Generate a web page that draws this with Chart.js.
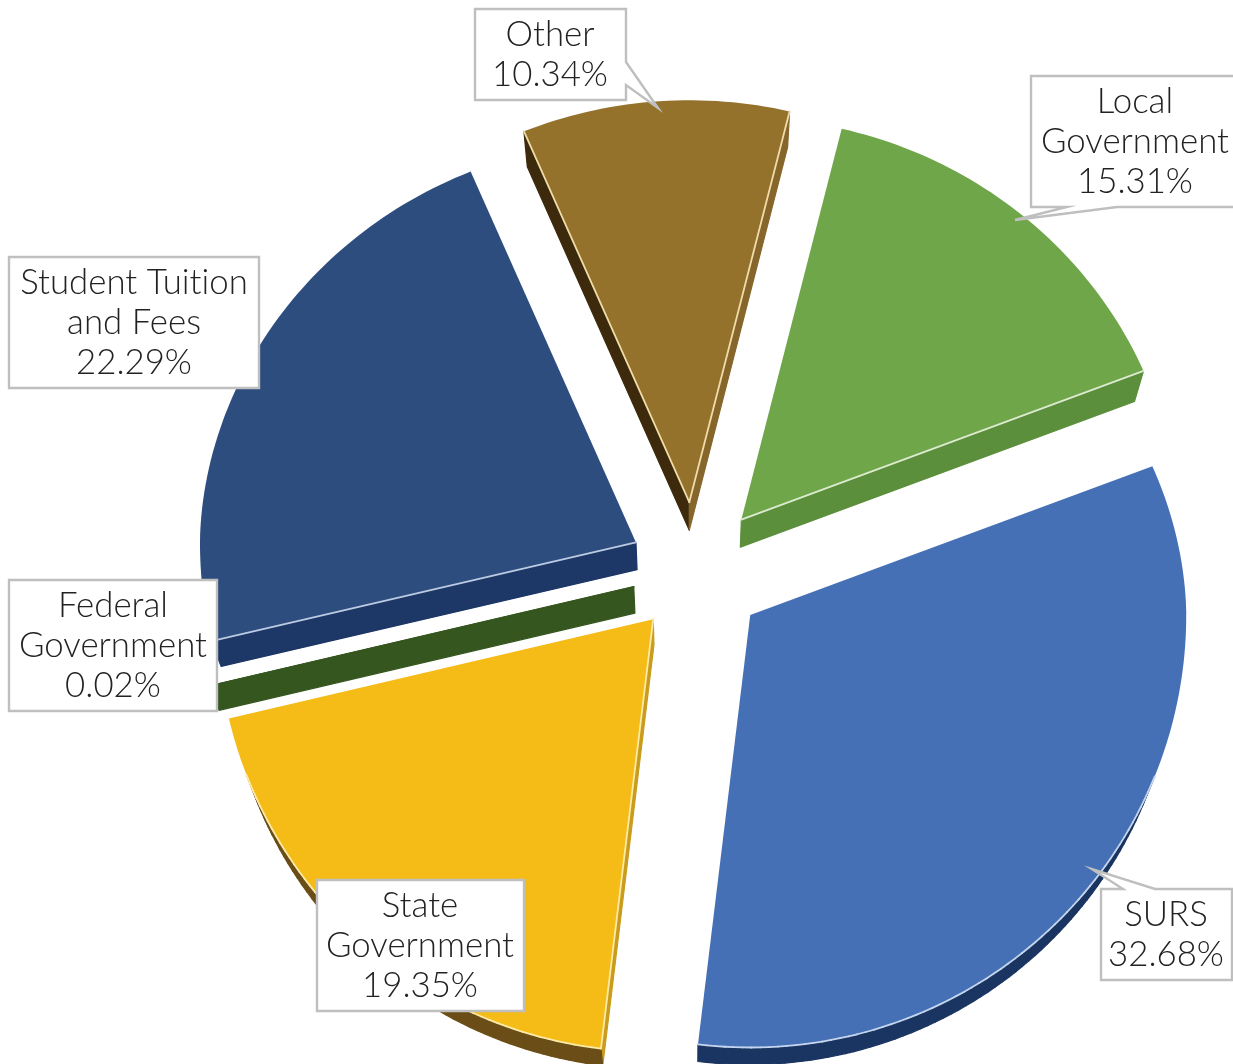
<!DOCTYPE html>
<html lang="en">
<head>
<meta charset="utf-8">
<title>Revenue by source</title>
<script src="https://cdn.jsdelivr.net/npm/chart.js@4/dist/chart.umd.min.js"></script>
<style>
    html, body { margin: 0; padding: 0; background: #fff; }
    canvas { display: block; }
</style>
</head>
<body>
<canvas id="revenuePie" width="1233" height="1064"></canvas>
<script>
// Chart data
const categories = ['Other', 'Local Government', 'SURS', 'State Government', 'Federal Government', 'Student Tuition and Fees'];
const shares = [10.34, 15.31, 32.68, 19.35, 0.02, 22.29];
const labelBreaks = [['Other'], ['Local', 'Government'], ['SURS'], ['State', 'Government'], ['Federal', 'Government'], ['Student Tuition', 'and Fees']];

// Slice styling
const faceColors = ['#94722c', '#70a64a', '#4670b6', '#f5bb16', '#3c6326', '#2e4d7f'];
const edgeColors = ['#f0dca8', '#dcebcf', '#c5d5ee', '#fdeaa6', '#35561f', '#bccbe2'];
// wall colours: [first radial side, outer rim, last radial side]
const wallColors = [
    ['#3d2a0d', '#3d2a0d', '#86662a'],
    ['#5c8f3c', '#5c8f3c', '#5c8f3c'],
    ['#1b3562', '#1b3562', '#1b3562'],
    ['#c99c1c', '#6b4e17', '#c99c1c'],
    ['#35561f', '#35561f', '#35561f'],
    ['#1d3766', '#1d3766', '#1d3766']
];
const sliceOffsets = [70, 70, 70, 63, 63, 66];

// Tilted pie settings
const pieRadius = 436;
const backShrink = 0.078;
const frontShrink = 0.008;
const angleWarp = 1.0 * Math.PI / 180;
const depthRate = 0.02;
const vanishPoint = { x: 691, y: 1900 };

// Callout outlines, tail points included
const callouts = [
    { cx: 550, cy: 55, outline: [[475, 9], [626, 9], [626, 62], [658, 108], [626, 85], [626, 100], [475, 100]] },
    { cx: 1135, cy: 142, outline: [[1031, 76], [1245, 76], [1245, 207], [1117, 207], [1015, 220], [1067, 207], [1031, 207]] },
    { cx: 1166, cy: 935, outline: [[1101, 889], [1123, 889], [1092, 869], [1155, 889], [1232, 889], [1232, 980], [1101, 980]] },
    { cx: 420, cy: 946, outline: [[317, 880], [524, 880], [524, 1011], [317, 1011]] },
    { cx: 113, cy: 646, outline: [[9, 580], [217, 580], [217, 711], [9, 711]] },
    { cx: 134, cy: 323, outline: [[9, 257], [259, 257], [259, 388], [9, 388]] }
];

// Radius shrinks towards the back of the tilted pie, and a little at the front
function tiltedRadius(angle) {
    const depth = Math.cos(angle + Math.PI / 2);
    const back = Math.max(0, depth);
    const front = Math.max(0, -depth);
    return pieRadius * (1 - backShrink * Math.pow(back, 1.5) - frontShrink * front * front);
}

// Tilt also spreads the angles near the back and front of the pie
function tiltedAngle(angle) {
    return angle + angleWarp * Math.sin(2 * (angle + Math.PI / 2));
}

// Moves a point of the top face down to the bottom face
function extrude(p) {
    return {
        x: p.x + (vanishPoint.x - p.x) * depthRate,
        y: p.y + (vanishPoint.y - p.y) * depthRate
    };
}

// Outline of a slice, clockwise: tip, first corner, rim, last corner
function sliceOutline(arc) {
    const mid = (arc.startAngle + arc.endAngle) / 2;
    const tip = {
        x: arc.x + Math.cos(mid) * arc.options.offset,
        y: arc.y + Math.sin(mid) * arc.options.offset
    };
    const points = [tip];
    const steps = Math.max(1, Math.ceil((arc.endAngle - arc.startAngle) / 0.02));
    for (let i = 0; i <= steps; i++) {
        const a = arc.startAngle + (arc.endAngle - arc.startAngle) * i / steps;
        const r = tiltedRadius(a);
        const shown = tiltedAngle(a);
        points.push({ x: tip.x + Math.cos(shown) * r, y: tip.y + Math.sin(shown) * r });
    }
    return points;
}

// Segments of the outline whose side wall faces the viewer
function visibleEdges(points) {
    const edges = [];
    points.forEach((p, i) => {
        const q = points[(i + 1) % points.length];
        const shift = extrude(p);
        const facing = (q.y - p.y) * (shift.x - p.x) - (q.x - p.x) * (shift.y - p.y);
        if (facing > 0) {
            const part = i === 0 ? 0 : (i === points.length - 1 ? 2 : 1);
            edges.push({ p, q, part });
        }
    });
    return edges;
}

function drawWalls(ctx, points, colors) {
    visibleEdges(points).forEach(({ p, q, part }) => {
        const p2 = extrude(p);
        const q2 = extrude(q);
        ctx.beginPath();
        ctx.moveTo(p.x, p.y);
        ctx.lineTo(q.x, q.y);
        ctx.lineTo(q2.x, q2.y);
        ctx.lineTo(p2.x, p2.y);
        ctx.closePath();
        ctx.fillStyle = colors[part];
        ctx.strokeStyle = colors[part];
        ctx.lineWidth = 1.2;
        ctx.lineJoin = 'round';
        ctx.fill();
        ctx.stroke();
    });
}

function drawFace(ctx, points, color, edgeColor) {
    ctx.beginPath();
    points.forEach((p, i) => (i ? ctx.lineTo(p.x, p.y) : ctx.moveTo(p.x, p.y)));
    ctx.closePath();
    ctx.fillStyle = color;
    ctx.fill();

    // pale line where the face meets a visible wall
    ctx.strokeStyle = edgeColor;
    ctx.lineWidth = 1.8;
    ctx.lineCap = 'round';
    visibleEdges(points).forEach(({ p, q }) => {
        ctx.beginPath();
        ctx.moveTo(p.x, p.y);
        ctx.lineTo(q.x, q.y);
        ctx.stroke();
    });
}

function drawCallout(ctx, callout, lines) {
    ctx.beginPath();
    callout.outline.forEach(([x, y], i) => (i ? ctx.lineTo(x, y) : ctx.moveTo(x, y)));
    ctx.closePath();
    ctx.fillStyle = '#ffffff';
    ctx.fill();
    ctx.strokeStyle = '#bfbfbf';
    ctx.lineWidth = 2.4;
    ctx.lineJoin = 'miter';
    ctx.stroke();

    ctx.fillStyle = '#222222';
    ctx.font = '300 34.8px Lato, "Open Sans", sans-serif';
    ctx.textRendering = 'optimizeSpeed'; // no "ti" ligature
    ctx.textAlign = 'center';
    ctx.textBaseline = 'middle';
    const lineHeight = 40;
    const top = callout.cy - (lines.length - 1) * lineHeight / 2;
    lines.forEach((line, i) => ctx.fillText(line, callout.cx, top + i * lineHeight));
}

// Replaces the flat arcs with an extruded, tilted pie using the arc angles
const tiltedPie = {
    id: 'tiltedPie',
    beforeDatasetDraw(chart, args) {
        const { ctx } = chart;
        const arcs = args.meta.data;
        const outlines = arcs.map(sliceOutline);
        ctx.save();
        outlines.forEach((points, i) => drawWalls(ctx, points, wallColors[i]));
        outlines.forEach((points, i) => drawFace(ctx, points, arcs[i].options.backgroundColor, edgeColors[i]));
        ctx.restore();
        return false;
    },
    afterDraw(chart) {
        const { ctx } = chart;
        ctx.save();
        callouts.forEach((callout, i) => {
            drawCallout(ctx, callout, [...labelBreaks[i], shares[i].toFixed(2) + '%']);
        });
        ctx.restore();
    }
};

new Chart(document.getElementById('revenuePie'), {
    type: 'pie',
    data: {
        labels: categories,
        datasets: [{
            data: shares,
            backgroundColor: faceColors,
            borderWidth: 0,
            offset: sliceOffsets,
            clip: false
        }]
    },
    options: {
        responsive: false,
        animation: false,
        events: [],
        rotation: -23.3,
        radius: pieRadius,
        layout: { padding: { left: 157, top: 80 } },
        plugins: {
            legend: { display: false },
            tooltip: { enabled: false }
        }
    },
    plugins: [tiltedPie]
});
</script>
</body>
</html>
